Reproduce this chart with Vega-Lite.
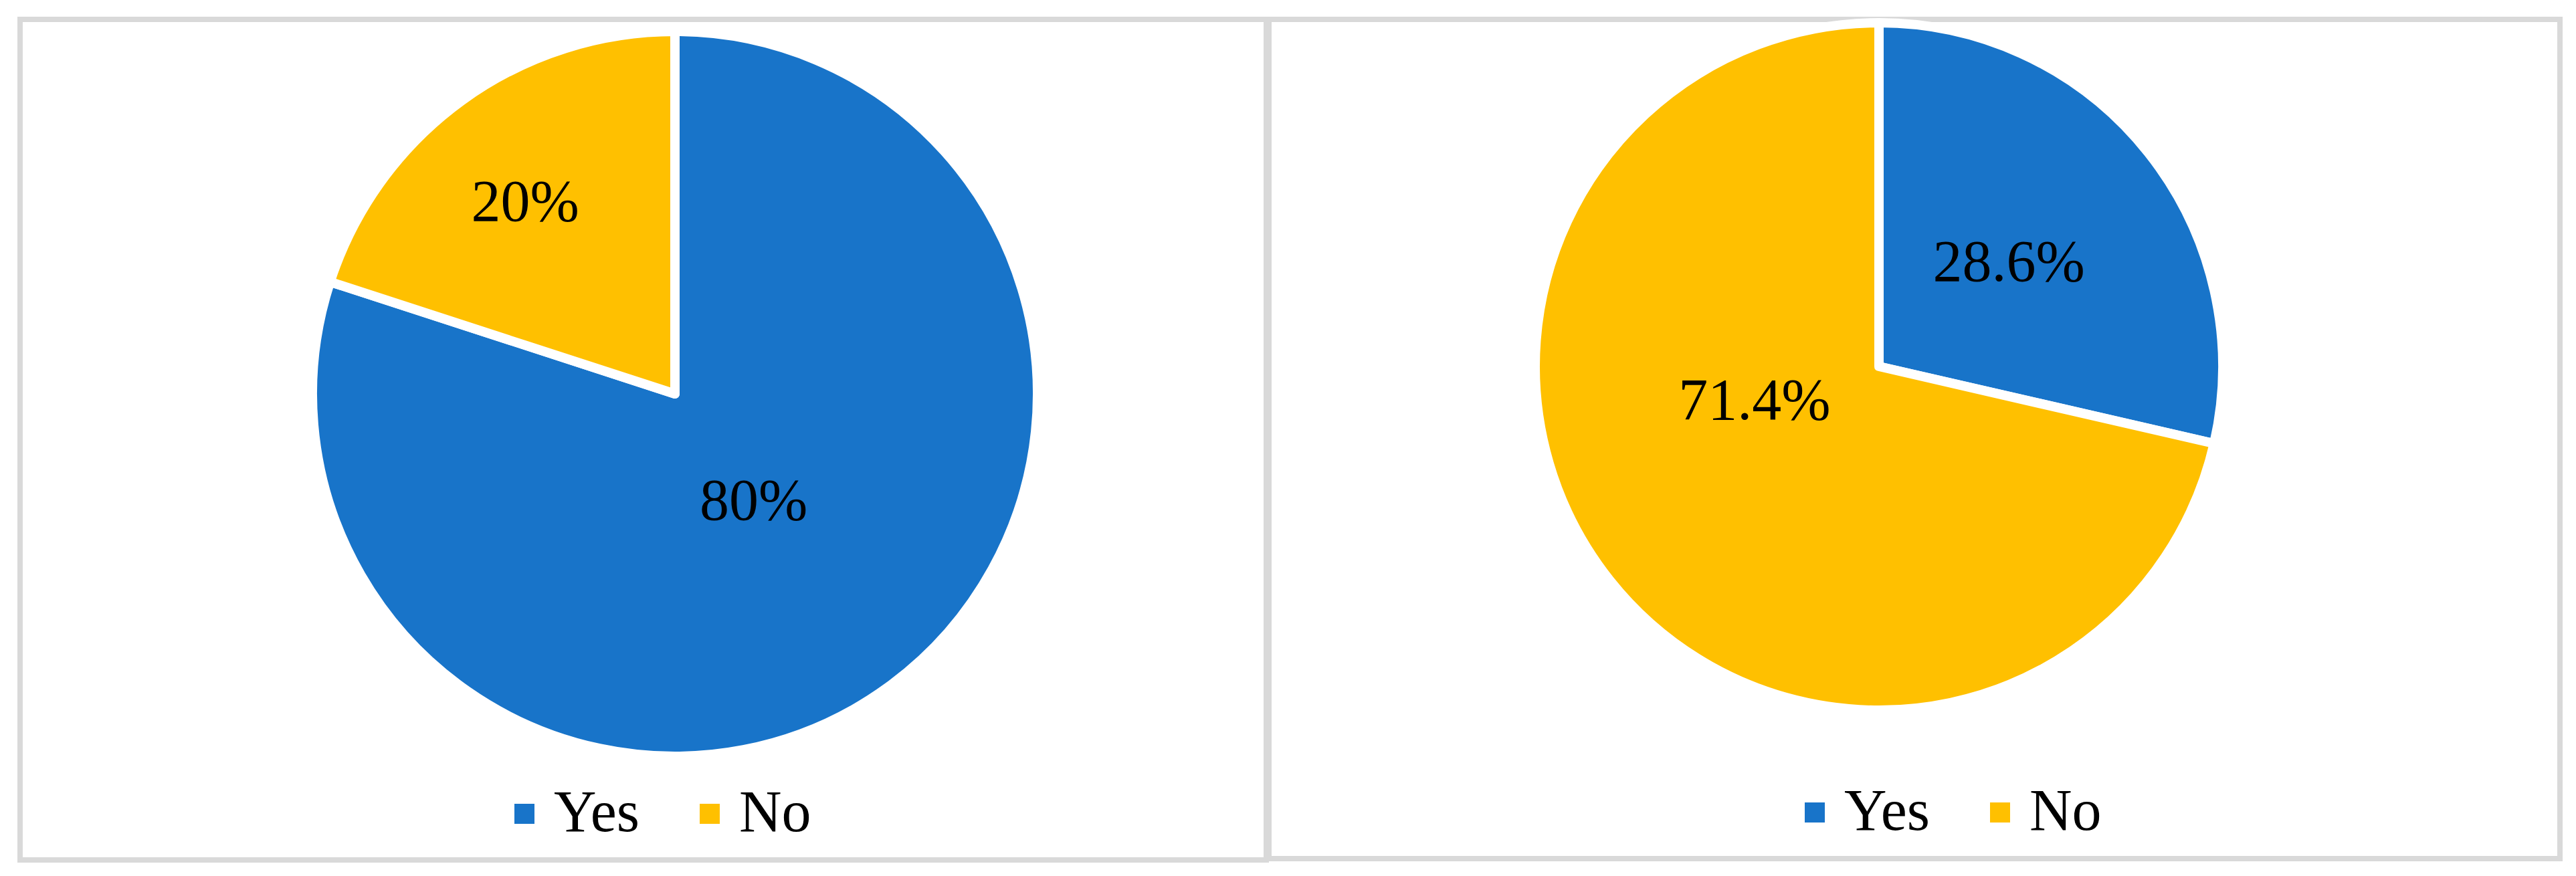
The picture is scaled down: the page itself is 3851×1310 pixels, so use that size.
{
  "$schema": "https://vega.github.io/schema/vega-lite/v6.json",
  "background": "white",
  "padding": {"left": 26, "top": 23, "right": 0, "bottom": 0},
  "spacing": -4,
  "resolve": {"legend": {"color": "independent"}, "scale": {"theta": "independent", "color": "independent"}},
  "config": {
    "view": {"stroke": "#D9D9D9", "strokeWidth": 8},
    "legend": {
      "orient": "none",
      "direction": "horizontal",
      "title": null,
      "symbolType": "square",
      "symbolSize": 900,
      "symbolStrokeWidth": 0,
      "symbolOpacity": 1,
      "labelFont": "Liberation Serif",
      "labelFontSize": 88,
      "labelColor": "black",
      "labelOffset": 0,
      "columnPadding": 60,
      "padding": 0
    }
  },
  "hconcat": [
    {
      "width": 1863,
      "height": 1257,
      "view": {"stroke": "#D9D9D9", "strokeWidth": 8, "fill": "white"},
      "data": {"values": [
        {"Response": "Yes", "Percent": 80, "Label": "80%"},
        {"Response": "No", "Percent": 20, "Label": "20%"}
      ]},
      "encoding": {
        "theta": {"field": "Percent", "type": "quantitative", "stack": true},
        "order": {"field": "Response", "sort": "descending"},
        "detail": {"field": "Response"}
      },
      "layer": [
        {
          "mark": {"type": "arc", "radius": 542, "stroke": "white", "strokeWidth": 14, "strokeJoin": "round", "xOffset": 47.5, "yOffset": -68.5},
          "encoding": {
            "color": {
              "field": "Response", "type": "nominal",
              "scale": {"domain": ["Yes", "No"], "range": ["#1874C9", "#FFC000"]},
              "legend": {"legendX": 710, "legendY": 1144}
            }
          }
        },
        {
          "mark": {
            "type": "text", "font": "Liberation Serif", "fontSize": 88, "color": "black",
            "radius": {"expr": "datum.Response === 'Yes' ? 200 : 362"},
            "xOffset": 47.5, "yOffset": -68.5,
            "dx": {"expr": "datum.Response === 'Yes' ? 0 : -11"},
            "dy": {"expr": "datum.Response === 'Yes' ? 0 : 8"}
          },
          "encoding": {"text": {"field": "Label", "type": "nominal"}}
        }
      ]
    },
    {
      "width": 1930,
      "height": 1255,
      "view": {"stroke": "#D9D9D9", "strokeWidth": 8, "fill": "white"},
      "data": {"values": [
        {"Response": "Yes", "Percent": 28.6, "Label": "28.6%"},
        {"Response": "No", "Percent": 71.4, "Label": "71.4%"}
      ]},
      "encoding": {
        "theta": {"field": "Percent", "type": "quantitative", "stack": true},
        "order": {"field": "Response", "sort": "descending"},
        "detail": {"field": "Response"}
      },
      "layer": [
        {
          "mark": {"type": "arc", "radius": 514, "stroke": "white", "strokeWidth": 14, "strokeJoin": "round", "xOffset": -53, "yOffset": -108.5},
          "encoding": {
            "color": {
              "field": "Response", "type": "nominal",
              "scale": {"domain": ["Yes", "No"], "range": ["#1874C9", "#FFC000"]},
              "legend": {"legendX": 772, "legendY": 1142}
            }
          }
        },
        {
          "mark": {
            "type": "text", "font": "Liberation Serif", "fontSize": 88, "color": "black",
            "radius": {"expr": "datum.Response === 'Yes' ? 248 : 179"},
            "xOffset": -53, "yOffset": -108.5,
            "dx": {"expr": "datum.Response === 'Yes' ? 0 : -46"},
            "dy": {"expr": "datum.Response === 'Yes' ? 0 : -58"}
          },
          "encoding": {"text": {"field": "Label", "type": "nominal"}}
        }
      ]
    }
  ]
}
